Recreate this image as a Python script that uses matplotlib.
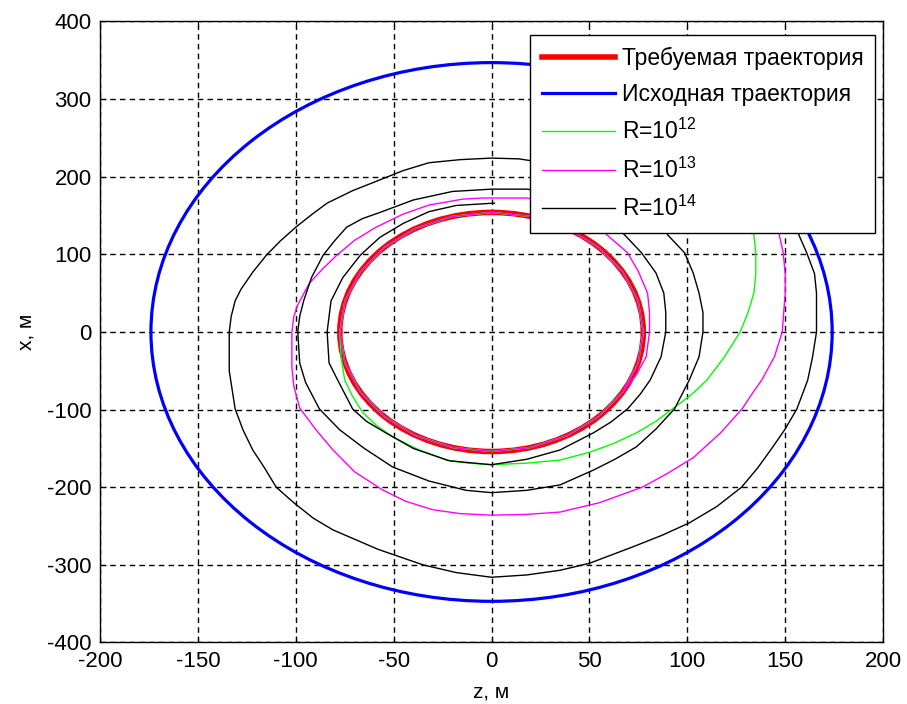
import matplotlib
matplotlib.use('Agg')
from matplotlib import pyplot as plt
from matplotlib.patches import Ellipse
from matplotlib.lines import Line2D

plt.rcParams['font.family'] = ['Liberation Sans', 'DejaVu Sans']
plt.rcParams['mathtext.fontset'] = 'custom'
plt.rcParams['mathtext.rm'] = 'Liberation Sans'
plt.rcParams['mathtext.it'] = 'Liberation Sans'
plt.rcParams['axes.unicode_minus'] = False

# Эллипсы: центр (z, x) и полуоси (по z, по x), м
required_center = (0, 0)
required_axes = (77.5, 154)
initial_center = (0, 0)
initial_axes = (174, 347)

# Точки на требуемой траектории (обход по часовой, начиная сверху)
settled_z = [0, 20.1, 38.8, 54.8, 67.1, 74.9, 77.5, 74.9, 67.1, 54.8, 38.8, 20.1,
             0, -20.1, -38.8, -54.8, -67.1, -74.9, -77.5, -74.9, -67.1, -54.8, -38.8, -20.1]
settled_x = [154, 148.8, 133.4, 108.9, 77.0, 39.9, 0, -39.9, -77.0, -108.9, -133.4, -148.8,
             -154, -148.8, -133.4, -108.9, -77.0, -39.9, 0, 39.9, 77.0, 108.9, 133.4, 148.8]

# R = 1e12: подход к требуемой траектории
green_z = [30, 70, 105, 125, 133, 134, 135, 135, 134, 131, 127, 123, 119, 110, 102, 92.5, 84, 74, 62,
           50, 35, 18, 0, -12, -23, -37, -50.5, -59, -66, -71, -75, -77]
green_x = [342, 310, 265, 210, 160, 125, 102, 75, 50, 25, 0, -16, -32, -62, -81, -99, -115, -130, -144,
           -155, -165, -169, -171, -169, -165, -152, -135, -120, -103, -83, -62, -30]

# R = 1e13
magenta_z = [30, 70, 105, 130, 143, 147, 149, 150, 150, 148.5, 144.5, 138, 133, 128, 117, 103, 90, 77,
             55, 35, 18, 0, -16, -30, -44, -56, -70, -81, -90, -98, -101, -102, -102, -101, -99, -93,
             -86, -79, -70, -59, -45, -32, -15, -5, 18,
             40, 52, 59, 69.5, 75, 79.7, 80.7, 80.7, 79, 74]
magenta_x = [342, 318, 280, 230, 175, 125, 102, 75, 50, 0, -32, -62, -80, -99, -130, -162, -182, -200,
             -220, -232, -235, -236, -234, -229, -218, -203, -180, -152, -125, -98, -70, -45, 0, 20, 35, 63,
             82, 99, 118, 135, 152, 163.5, 171, 172.6, 172.6,
             160, 143, 125, 102, 78, 50, 25, 0, -32, -55]

# R = 1e14
black_z = [30, 70, 105, 130, 147, 154, 157, 161, 165, 166, 166, 166, 164, 161.5, 156, 150, 143.7, 136,
           127.7, 115, 101, 87, 72, 50, 35, 18, 0, -18, -35, -58, -81, -91, -101, -110, -116, -122, -127,
           -131, -134, -134, -133, -131, -128, -122, -115, -108, -100, -92, -84, -71, -57, -45, -32, -16,
           0, 14,
           40, 62, 78, 90, 98.6, 103, 106, 108, 108, 106, 101, 93.5, 84, 74, 63, 52, 35, 18, 0, -13, -32,
           -50.5, -65, -77.6, -88, -95, -98, -99, -98, -96, -92, -86, -80, -74, -66, -57, -40, -20, 0, 18,
           40, 55, 68, 76.6, 84, 88, 89, 89, 86.6, 81, 76, 69.5, 61, 52, 35, 18, 0, -21.5, -40, -54, -64,
           -71, -79, -83, -84, -83, -82, -76, -67, -57, -45, -32, -18, 1.5]
black_x = [342, 322, 290, 250, 200, 160, 125, 102, 75, 50, 25, 0, -32, -62, -99, -125, -148, -175,
           -200, -225, -246, -262, -277, -298, -307, -313, -316, -310, -300, -280, -255, -240, -220, -200,
           -175, -152, -126, -99, -50, 0, 20, 40, 55, 77, 99, 117, 135, 151, 166, 182, 196, 208, 218, 222,
           224, 223,
           213, 195, 165, 125, 102, 76, 50, 25, 0, -32, -62, -99, -125, -148, -164, -178, -197, -204, -207,
           -204, -192, -174, -150, -126, -99, -65, -40, 0, 20, 40, 70, 99, 118, 135, 146, 154, 170, 181,
           184, 184,
           176, 158, 125, 102, 76, 50, 25, 0, -32, -62, -80, -99, -116, -130, -152, -164, -171, -166,
           -150, -130, -115, -99, -60, -40, 0, 20, 40, 70, 99, 122, 140, 155, 163, 166]

# зелёная и пурпурная выходят на требуемую траекторию и делают по витку
green_z = green_z + settled_z[18:] + settled_z + settled_z[:19]
green_x = green_x + settled_x[18:] + settled_x + settled_x[:19]
magenta_z = magenta_z + settled_z[8:] + settled_z[:9]
magenta_x = magenta_x + settled_x[8:] + settled_x[:9]

labels = ['Требуемая траектория', 'Исходная траектория',
          'R=10$^{12}$', 'R=10$^{13}$', 'R=10$^{14}$']

fig = plt.figure(figsize=(9.07, 7.04), dpi=100)
ax = fig.add_axes([0.1103, 0.0874, 0.8633, 0.8821])

ax.add_patch(Ellipse(required_center, 2 * required_axes[0], 2 * required_axes[1],
                     fill=False, edgecolor='red', linewidth=4))
ax.add_patch(Ellipse(initial_center, 2 * initial_axes[0], 2 * initial_axes[1],
                     fill=False, edgecolor='blue', linewidth=2.3))
ax.plot(green_z, green_x, color='#00ff00', linewidth=1)
ax.plot(magenta_z, magenta_x, color='#ff00ff', linewidth=1)
ax.plot(black_z, black_x, color='black', linewidth=1)

handles = [Line2D([], [], color='red', linewidth=4),
           Line2D([], [], color='blue', linewidth=2.3),
           Line2D([], [], color='#00ff00', linewidth=1),
           Line2D([], [], color='#ff00ff', linewidth=1),
           Line2D([], [], color='black', linewidth=1)]

ax.set_xlim(-200, 200)
ax.set_ylim(-400, 400)
ax.set_xticks(range(-200, 201, 50))
ax.set_yticks(range(-400, 401, 100))
ax.grid(True, color='black', linestyle=(0, (4, 3)), linewidth=1)
ax.set_axisbelow(True)
ax.tick_params(direction='in', top=True, right=True, length=4, width=0.8,
               labelsize=16, pad=6)
for s in ax.spines.values():
    s.set_linewidth(1)

ax.set_xlabel('z, м', fontsize=15, labelpad=8)
ax.set_ylabel('x, м', fontsize=15, labelpad=8)

leg = ax.legend(handles, labels, loc='upper right', bbox_to_anchor=(0.9898, 0.9783),
                borderaxespad=0, fontsize=16.5, handlelength=3.2, handletextpad=0.3,
                labelspacing=0.58, borderpad=0.5, fancybox=False, framealpha=1)
leg.get_frame().set_edgecolor('black')
leg.get_frame().set_linewidth(1)

fig.savefig('out.png', dpi=100, facecolor='white')
